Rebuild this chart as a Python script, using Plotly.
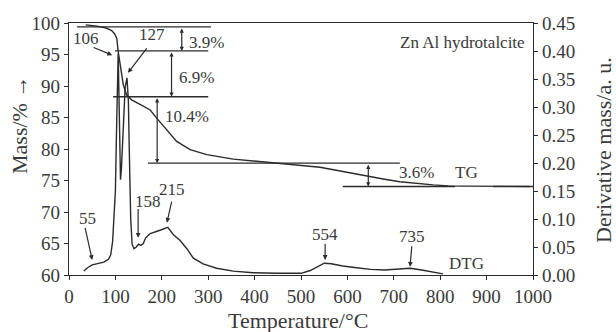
import plotly.graph_objects as go

# ---- data ----
tg_temp = [36, 60, 80, 92, 98, 103, 106, 111, 117, 124, 135, 153, 175, 189, 211, 232, 261, 297,
           354, 426, 498, 541, 570, 605, 642, 680, 713, 750, 785, 817, 850, 1000]
tg_mass = [99.7, 99.5, 99.2, 98.8, 98.3, 97.6, 95.5, 92.8, 90.2, 88.6, 87.8, 87.1, 86.2, 84.9, 83.0,
           81.2, 79.9, 79.1, 78.4, 77.9, 77.5, 77.1, 76.7, 76.2, 75.7, 75.2, 74.8, 74.5, 74.3, 74.15,
           74.1, 74.05]

dtg_temp = [32, 40, 50, 60, 75, 85, 90, 94, 97, 100, 102, 104, 106, 107.5, 109, 111, 113, 117, 121,
            125, 128, 130, 133, 136, 140, 145, 150, 155, 160, 165, 175, 193, 205, 213, 225, 239, 254,
            268, 289, 318, 354, 397, 450, 500, 520, 535, 550, 565, 590, 620, 650, 680, 710, 735, 760,
            785, 806]
dtg_val = [0.007, 0.013, 0.018, 0.020, 0.023, 0.028, 0.036, 0.060, 0.10, 0.15, 0.24, 0.34, 0.395,
           0.33, 0.22, 0.17, 0.19, 0.28, 0.335, 0.352, 0.31, 0.22, 0.10, 0.055, 0.047, 0.050, 0.055,
           0.053, 0.056, 0.066, 0.074, 0.079, 0.082, 0.085, 0.072, 0.062, 0.047, 0.030, 0.020, 0.012,
           0.007, 0.004, 0.003, 0.003, 0.008, 0.015, 0.021, 0.020, 0.016, 0.013, 0.010, 0.009, 0.011,
           0.012, 0.009, 0.005, 0.002]

# horizontal step levels (mass %) with start/end temperatures
step_levels = [99.37, 95.57, 88.29, 77.75, 74.05, 74.05]
step_start = [17, 99, 95, 170, 590, 914]
step_end = [306, 300, 300, 713, 832, 993]

# vertical mass-loss bars
loss_temp = [243, 221, 190, 645]
loss_top = [99.37, 95.57, 88.29, 77.75]
loss_bottom = [95.57, 88.29, 77.75, 74.05]
loss_labels = ["3.9%", "6.9%", "10.4%", "3.6%"]
loss_label_t = [254, 233, 203, 707]
loss_label_m = [96.9, 91.3, 85.1, 76.3]

# peak labels
peak_labels = ["106", "127", "55", "158", "215", "554", "735"]
peak_text_t = [37, 179, 39, 170, 222, 552, 739]
peak_text_m = [97.6, 98.1, 68.9, 71.6, 73.5, 66.4, 66.1]
peak_tail_t = [50, 170, 34, 149, 222, 552, 739]
peak_tail_m = [96.2, 96.2, 67.7, 70.7, 71.9, 65.2, 64.8]
peak_head_t = [93, 127, 50, 149, 211, 552, 735]
peak_head_m = [94.9, 92.1, 62.4, 65.9, 68.3, 62.4, 61.3]

x_ticks = list(range(0, 1001, 100))
y_ticks = list(range(60, 101, 5))
y2_ticks = [0.00, 0.05, 0.10, 0.15, 0.20, 0.25, 0.30, 0.35, 0.40, 0.45]

INK = "#2b2b2b"
TXT = "#3a3a3a"
FONT = "Liberation Serif"

fig = go.Figure()
fig.add_trace(go.Scatter(x=tg_temp, y=tg_mass, mode="lines", line=dict(color=INK, width=1.4),
                         showlegend=False, hoverinfo="skip"))
fig.add_trace(go.Scatter(x=dtg_temp, y=dtg_val, mode="lines", yaxis="y2",
                         line=dict(color=INK, width=1.4), showlegend=False, hoverinfo="skip"))

for lvl, s, e in zip(step_levels, step_start, step_end):
    fig.add_trace(go.Scatter(x=[s, e], y=[lvl, lvl], mode="lines", line=dict(color=INK, width=1.3),
                             showlegend=False, hoverinfo="skip"))

ann = []
for t, top, bot in zip(loss_temp, loss_top, loss_bottom):
    ann.append(dict(x=t, y=bot, ax=t, ay=top, xref="x", yref="y", axref="x", ayref="y", text="",
                    showarrow=True, arrowhead=2, arrowside="end+start", arrowsize=0.7,
                    arrowwidth=1.2, arrowcolor=INK, standoff=0, startstandoff=0))
for lab, t, m in zip(loss_labels, loss_label_t, loss_label_m):
    ann.append(dict(x=t, y=m, xref="x", yref="y", text=lab, showarrow=False, xanchor="left",
                    yanchor="middle", font=dict(family=FONT, size=17, color=TXT)))
for lab, tt, tm, at, am, ht, hm in zip(peak_labels, peak_text_t, peak_text_m, peak_tail_t,
                                       peak_tail_m, peak_head_t, peak_head_m):
    ann.append(dict(x=tt, y=tm, xref="x", yref="y", text=lab, showarrow=False,
                    xanchor="center", yanchor="middle",
                    font=dict(family=FONT, size=17, color=TXT)))
    ann.append(dict(x=ht, y=hm, ax=at, ay=am, xref="x", yref="y", axref="x", ayref="y", text="",
                    showarrow=True, arrowhead=2, arrowsize=0.8, arrowwidth=1.2, arrowcolor=INK,
                    standoff=0))

ann.append(dict(x=828, y=76.3, xref="x", yref="y", text="TG", showarrow=False, xanchor="left",
                yanchor="middle", font=dict(family=FONT, size=17, color=TXT)))
ann.append(dict(x=815, y=61.9, xref="x", yref="y", text="DTG", showarrow=False, xanchor="left",
                yanchor="middle", font=dict(family=FONT, size=17, color=TXT)))
ann.append(dict(x=987, y=96.9, xref="x", yref="y", text="Zn Al hydrotalcite", showarrow=False,
                xanchor="right", yanchor="middle", font=dict(family=FONT, size=17, color=TXT)))

# axis titles (pixel positions converted to paper coords below)
ann.append(dict(x=19, y=125, text="Mass/% \u2192", textangle=-90,
                showarrow=False, font=dict(family=FONT, size=22, color=TXT)))
ann.append(dict(x=603, y=150, text="Derivative mass/a. u.", textangle=-90, showarrow=False,
                font=dict(family=FONT, size=22, color=TXT)))
ann.append(dict(x=298, y=320, text="Temperature/\u00b0C", showarrow=False,
                font=dict(family=FONT, size=22, color=TXT)))

W, H = 616, 332
L, R, T, B = 69, 83, 23, 57
pw, ph = W - L - R, H - T - B
for a in ann[-3:]:
    px, py = a["x"], a["y"]
    a["x"] = (px - L) / pw
    a["y"] = 1 - (py - T) / ph
    a["xref"] = "paper"
    a["yref"] = "paper"
    a["xanchor"] = "center"
    a["yanchor"] = "middle"

axis_common = dict(showline=True, linecolor=INK, linewidth=1.3, ticks="outside", ticklen=4,
                   tickcolor=INK, tickwidth=1.2, showgrid=False, zeroline=False,
                   tickfont=dict(family=FONT, size=19, color=TXT))

fig.update_layout(
    width=W, height=H, margin=dict(l=L, r=R, t=T, b=B, autoexpand=False),
    paper_bgcolor="white", plot_bgcolor="white",
    xaxis=dict(range=[0, 1000], tickvals=x_ticks, mirror=True, **axis_common),
    yaxis=dict(range=[60, 100], tickvals=y_ticks, **axis_common),
    yaxis2=dict(range=[0, 0.45], tickvals=y2_ticks, tickformat=".2f", overlaying="y",
                side="right", **axis_common),
    annotations=ann,
)

fig.write_html("out.html", config={"displayModeBar": False},
               post_script="document.body.style.margin='0';document.body.style.overflow='hidden';")
